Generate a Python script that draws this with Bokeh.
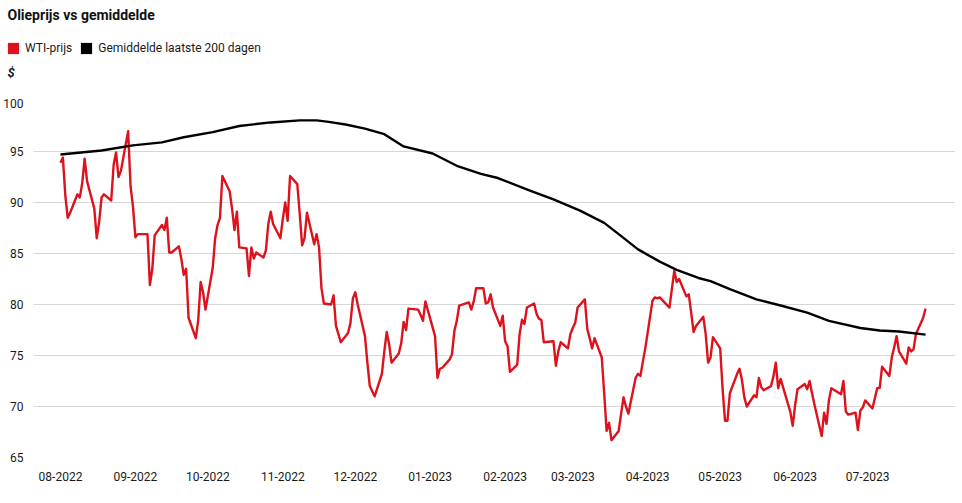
import pandas as pd
from bokeh.plotting import figure
from bokeh.layouts import column
from bokeh.models import (Range1d, FixedTicker, DatetimeTickFormatter, Legend,
                          LegendItem, Label)
from bokeh.embed import file_html
from bokeh.resources import INLINE

# ---------------- data ----------------
wti_dates = [
    "2022-08-01", "2022-08-02", "2022-08-03", "2022-08-04", "2022-08-05", "2022-08-08", "2022-08-09",
    "2022-08-10", "2022-08-11", "2022-08-12", "2022-08-15", "2022-08-16", "2022-08-17", "2022-08-18",
    "2022-08-19", "2022-08-22", "2022-08-23", "2022-08-24", "2022-08-25", "2022-08-26", "2022-08-29",
    "2022-08-30", "2022-08-31",
    "2022-09-01", "2022-09-02", "2022-09-06", "2022-09-07", "2022-09-08", "2022-09-09", "2022-09-12",
    "2022-09-13", "2022-09-14", "2022-09-15", "2022-09-16", "2022-09-19", "2022-09-20", "2022-09-21",
    "2022-09-22", "2022-09-23", "2022-09-26", "2022-09-27", "2022-09-28", "2022-09-29", "2022-09-30",
    "2022-10-03", "2022-10-04", "2022-10-05", "2022-10-06", "2022-10-07", "2022-10-10", "2022-10-11",
    "2022-10-12", "2022-10-13", "2022-10-14", "2022-10-17", "2022-10-18", "2022-10-19", "2022-10-20",
    "2022-10-21", "2022-10-24", "2022-10-25", "2022-10-26", "2022-10-27", "2022-10-28", "2022-10-31",
    "2022-11-01", "2022-11-02", "2022-11-03", "2022-11-04", "2022-11-07", "2022-11-08", "2022-11-09",
    "2022-11-10", "2022-11-11", "2022-11-14", "2022-11-15", "2022-11-16", "2022-11-17", "2022-11-18",
    "2022-11-21", "2022-11-22", "2022-11-23", "2022-11-25", "2022-11-28", "2022-11-29", "2022-11-30",
    "2022-12-01", "2022-12-02", "2022-12-05", "2022-12-06", "2022-12-07", "2022-12-08", "2022-12-09",
    "2022-12-12", "2022-12-13", "2022-12-14", "2022-12-15", "2022-12-16", "2022-12-19", "2022-12-20",
    "2022-12-21", "2022-12-22", "2022-12-23", "2022-12-27", "2022-12-28", "2022-12-29", "2022-12-30",
    "2023-01-03", "2023-01-04", "2023-01-05", "2023-01-06", "2023-01-09", "2023-01-10", "2023-01-11",
    "2023-01-12", "2023-01-13", "2023-01-17", "2023-01-18", "2023-01-19", "2023-01-20", "2023-01-23",
    "2023-01-24", "2023-01-25", "2023-01-26", "2023-01-27", "2023-01-30", "2023-01-31",
    "2023-02-01", "2023-02-02", "2023-02-03", "2023-02-06", "2023-02-07", "2023-02-08", "2023-02-09",
    "2023-02-10", "2023-02-13", "2023-02-14", "2023-02-15", "2023-02-16", "2023-02-17", "2023-02-21",
    "2023-02-22", "2023-02-23", "2023-02-24", "2023-02-27", "2023-02-28",
    "2023-03-01", "2023-03-02", "2023-03-03", "2023-03-06", "2023-03-07", "2023-03-08", "2023-03-09",
    "2023-03-10", "2023-03-13", "2023-03-14", "2023-03-15", "2023-03-16", "2023-03-17", "2023-03-20",
    "2023-03-21", "2023-03-22", "2023-03-23", "2023-03-24", "2023-03-27", "2023-03-28", "2023-03-29",
    "2023-03-30", "2023-03-31",
    "2023-04-03", "2023-04-04", "2023-04-05", "2023-04-06", "2023-04-10", "2023-04-11", "2023-04-12",
    "2023-04-13", "2023-04-14", "2023-04-17", "2023-04-18", "2023-04-19", "2023-04-20", "2023-04-21",
    "2023-04-24", "2023-04-25", "2023-04-26", "2023-04-27", "2023-04-28",
    "2023-05-01", "2023-05-02", "2023-05-03", "2023-05-04", "2023-05-05", "2023-05-08", "2023-05-09",
    "2023-05-10", "2023-05-11", "2023-05-12", "2023-05-15", "2023-05-16", "2023-05-17", "2023-05-18",
    "2023-05-19", "2023-05-22", "2023-05-23", "2023-05-24", "2023-05-25", "2023-05-26", "2023-05-30",
    "2023-05-31",
    "2023-06-01", "2023-06-02", "2023-06-05", "2023-06-06", "2023-06-07", "2023-06-08", "2023-06-09",
    "2023-06-12", "2023-06-13", "2023-06-14", "2023-06-15", "2023-06-16", "2023-06-20", "2023-06-21",
    "2023-06-22", "2023-06-23", "2023-06-26", "2023-06-27", "2023-06-28", "2023-06-29", "2023-06-30",
    "2023-07-03", "2023-07-05", "2023-07-06", "2023-07-07", "2023-07-10", "2023-07-11", "2023-07-12",
    "2023-07-13", "2023-07-14", "2023-07-17", "2023-07-18", "2023-07-19", "2023-07-20", "2023-07-21",
    "2023-07-24", "2023-07-25",
]
wti_values = [
    93.9, 94.4, 90.7, 88.5, 89.0, 90.8, 90.5, 91.9, 94.3, 92.1, 89.4, 86.5, 88.1, 90.5,
    90.8, 90.2, 93.7, 94.9, 92.5, 93.1, 97.0, 91.6, 89.6,
    86.6, 86.9, 86.9, 81.9, 83.5, 86.8, 87.8, 87.3, 88.5, 85.1, 85.1, 85.7, 84.5, 82.9,
    83.5, 78.7, 76.7, 78.5, 82.2, 81.2, 79.5,
    83.6, 86.5, 87.8, 88.5, 92.6, 91.1, 89.4, 87.3, 89.1, 85.6, 85.5, 82.8, 85.6, 84.5,
    85.1, 84.6, 85.3, 87.9, 89.1, 87.9, 86.5,
    88.4, 90.0, 88.2, 92.6, 91.8, 88.9, 85.8, 86.5, 89.0, 85.9, 86.9, 85.6, 81.6, 80.1,
    80.0, 80.9, 77.9, 76.3, 77.2, 78.2, 80.6,
    81.2, 80.0, 76.9, 74.3, 72.0, 71.5, 71.0, 73.2, 75.4, 77.3, 76.1, 74.3, 75.2, 76.2,
    78.3, 77.5, 79.6, 79.5, 79.0, 78.4, 80.3,
    76.9, 72.8, 73.7, 73.8, 74.6, 75.1, 77.4, 78.4, 79.9, 80.2, 79.5, 80.3, 81.6, 81.6,
    80.1, 80.2, 81.0, 79.7, 77.9, 78.9,
    76.4, 75.9, 73.4, 74.1, 77.1, 78.5, 78.1, 79.7, 80.1, 79.1, 78.6, 78.5, 76.3, 76.4,
    74.0, 75.4, 76.3, 75.7, 77.1,
    77.7, 78.2, 79.7, 80.5, 77.6, 76.7, 75.7, 76.7, 74.8, 71.3, 67.6, 68.4, 66.7, 67.6,
    69.3, 70.9, 70.0, 69.3, 72.8, 73.2, 73.0, 74.4, 75.7,
    80.4, 80.7, 80.6, 80.7, 79.7, 81.5, 83.3, 82.2, 82.5, 80.8, 81.0, 79.2, 77.3, 77.9,
    78.8, 77.1, 74.3, 74.8, 76.8,
    75.7, 71.7, 68.6, 68.6, 71.3, 73.2, 73.7, 72.6, 70.9, 70.0, 71.1, 70.9, 72.8, 71.9,
    71.6, 72.0, 72.9, 74.3, 71.8, 72.7, 69.5, 68.1,
    70.1, 71.7, 72.2, 71.7, 72.5, 71.3, 70.2, 67.1, 69.4, 68.3, 70.6, 71.8, 71.2, 72.5,
    69.5, 69.2, 69.4, 67.7, 69.6, 69.9, 70.6,
    69.8, 71.8, 71.8, 73.9, 73.0, 74.8, 75.8, 76.9, 75.4, 74.2, 75.8, 75.4, 75.6, 77.1,
    78.7, 79.6,
]

avg_dates = [
    "2022-08-01", "2022-08-18", "2022-08-31", "2022-09-12", "2022-09-21", "2022-10-03", "2022-10-14",
    "2022-10-27", "2022-11-08", "2022-11-15", "2022-11-20", "2022-11-27", "2022-12-05", "2022-12-13",
    "2022-12-21", "2023-01-02", "2023-01-12", "2023-01-22", "2023-01-29", "2023-02-11", "2023-02-21",
    "2023-03-04", "2023-03-14", "2023-03-20", "2023-03-28", "2023-04-06", "2023-04-13", "2023-04-22",
    "2023-04-27", "2023-05-05", "2023-05-16", "2023-05-26", "2023-06-06", "2023-06-15", "2023-06-28",
    "2023-07-06", "2023-07-14", "2023-07-25",
]
avg_values = [
    94.7, 95.1, 95.6, 95.9, 96.4, 96.9, 97.5,
    97.85, 98.05, 98.05, 97.9, 97.65, 97.25, 96.7,
    95.5, 94.8, 93.6, 92.8, 92.4, 91.2, 90.3,
    89.2, 88.0, 86.9, 85.4, 84.2, 83.4, 82.6,
    82.3, 81.5, 80.5, 79.9, 79.2, 78.4, 77.7,
    77.45, 77.35, 77.05,
]

tick_months = ["2022-08-01", "2022-09-01", "2022-10-01", "2022-11-01", "2022-12-01", "2023-01-01",
               "2023-02-01", "2023-03-01", "2023-04-01", "2023-05-01", "2023-06-01", "2023-07-01"]
y_ticks = [65, 70, 75, 80, 85, 90, 95, 100]

chart_title = "Olieprijs vs gemiddelde"
unit_label = "$"
series_labels = ["WTI-prijs", "Gemiddelde laatste 200 dagen"]
series_colors = ["#dc121d", "#000000"]

# ---------------- styling ----------------
FONT = "Roboto"
TXT = "#1a1a1a"
W = 955
HEAD_H = 98
MAIN_BT, FRAME_H, MAIN_BB, MAIN_BL = 2, 357, 30, 32
MAIN_H = MAIN_BT + FRAME_H + MAIN_BB
LEFT = 7

# ---------------- header (title, legend, unit) ----------------
head = figure(width=W, height=HEAD_H, output_backend="svg", toolbar_location=None,
              x_range=Range1d(0, 1), y_range=Range1d(0, 1),
              x_axis_location=None, y_axis_location=None,
              min_border_left=0, min_border_right=0, min_border_top=0, min_border_bottom=0)
head.outline_line_color = None
head.grid.visible = False
head.frame_align = False

head.add_layout(Label(x=LEFT, y=HEAD_H - 14, x_units="screen", y_units="screen",
                      text=chart_title, text_font=FONT, text_font_size="14px",
                      text_font_style="bold", text_color="#111111",
                      text_baseline="alphabetic", text_align="left"))
head.add_layout(Label(x=LEFT, y=HEAD_H - 72, x_units="screen", y_units="screen",
                      text=unit_label, text_font=FONT, text_font_size="13px",
                      text_font_style="bold italic", text_color=TXT,
                      text_baseline="alphabetic", text_align="left"))

nan = float("nan")
sw1 = head.quad(left=[nan], right=[nan], top=[nan], bottom=[nan],
                fill_color=series_colors[0], line_color=None)
sw2 = head.quad(left=[nan], right=[nan], top=[nan], bottom=[nan],
                fill_color=series_colors[1], line_color=None)
legend = Legend(items=[LegendItem(label=series_labels[0], renderers=[sw1]),
                       LegendItem(label=series_labels[1], renderers=[sw2])],
                orientation="horizontal", location=(LEFT - 1, HEAD_H - 55),
                border_line_color=None, background_fill_alpha=0,
                glyph_width=14, glyph_height=14, label_standoff=5, spacing=7,
                padding=0, margin=0, label_text_font=FONT, label_text_font_size="12px",
                label_text_color=TXT, label_height=12)
head.add_layout(legend, "center")

# ---------------- main chart ----------------
wti_x = pd.to_datetime(wti_dates)
avg_x = pd.to_datetime(avg_dates)

p = figure(width=W, height=MAIN_H, x_axis_type="datetime",
           output_backend="svg", toolbar_location=None,
           x_range=Range1d(pd.Timestamp("2022-07-20 20:00"), pd.Timestamp("2023-08-06 09:00")),
           y_range=Range1d(65, 100),
           min_border_left=MAIN_BL, min_border_right=0,
           min_border_top=MAIN_BT, min_border_bottom=MAIN_BB)
p.outline_line_color = None
p.frame_align = False

p.line(wti_x, wti_values, line_color=series_colors[0], line_width=2.4, line_join="round")
p.line(avg_x, avg_values, line_color=series_colors[1], line_width=2.4, line_join="round")

p.xaxis.ticker = FixedTicker(ticks=[pd.Timestamp(d).timestamp() * 1000 for d in tick_months])
fmt = "%m-%Y"
p.xaxis.formatter = DatetimeTickFormatter(milliseconds=fmt, seconds=fmt, minsec=fmt, minutes=fmt,
                                          hourmin=fmt, hours=fmt, days=fmt, months=fmt, years=fmt)
p.yaxis.ticker = FixedTicker(ticks=y_ticks)
for ax in (p.xaxis, p.yaxis):
    ax.axis_line_color = None
    ax.major_tick_line_color = None
    ax.minor_tick_line_color = None
    ax.major_label_text_font = FONT
    ax.major_label_text_font_size = "12px"
    ax.major_label_text_color = TXT
p.xaxis.major_label_standoff = 8
p.yaxis.major_label_standoff = 4

p.xgrid.grid_line_color = None
p.ygrid.grid_line_color = "#d6d6d6"
p.ygrid.grid_line_width = 1

layout = column(head, p, spacing=0)
open("out.html", "w").write(file_html(layout, INLINE))
